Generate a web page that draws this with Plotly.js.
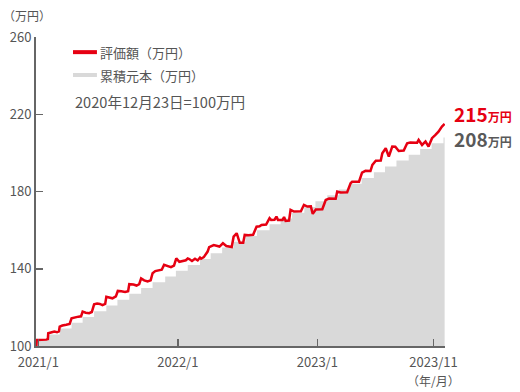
<!DOCTYPE html>
<html><head><meta charset="utf-8">
<script src="https://cdn.plot.ly/plotly-3.0.1.min.js"></script>
<style>html,body{margin:0;padding:0;background:#fff;}#chart{width:520px;height:392px;}</style>
</head><body><div id="chart"></div>
<script>
// 累積元本 (step, purchase dates)
const principalDates = ["2020-12-23","2020-12-28","2021-01-27","2021-02-26","2021-03-29","2021-04-27","2021-05-27","2021-06-28","2021-07-27","2021-08-27","2021-09-27","2021-10-27","2021-11-29","2021-12-27","2022-01-27","2022-02-28","2022-03-28","2022-04-27","2022-05-27","2022-06-27","2022-07-27","2022-08-29","2022-09-27","2022-10-27","2022-11-28","2022-12-27","2023-01-27","2023-02-27","2023-03-27","2023-04-27","2023-05-29","2023-06-27","2023-07-27","2023-08-28","2023-09-27","2023-10-27","2023-11-27","2023-11-30"];
const principalValues = [100,103,106,109,112,115,118,121,124,127,130,133,136,139,142,145,148,151,154,157,160,163,166,169,172,175,178,181,184,187,190,193,196,199,202,205,208,208];

// 評価額
const valueDates = ["2020-12-23","2020-12-27","2020-12-28","2021-01-05","2021-01-14","2021-01-22","2021-01-26","2021-01-27","2021-02-03","2021-02-12","2021-02-19","2021-02-24","2021-02-26","2021-03-05","2021-03-15","2021-03-24","2021-03-29","2021-04-08","2021-04-16","2021-04-23","2021-04-27","2021-05-05","2021-05-14","2021-05-21","2021-05-27","2021-06-04","2021-06-11","2021-06-18","2021-06-25","2021-06-28","2021-07-06","2021-07-14","2021-07-23","2021-07-28","2021-08-06","2021-08-16","2021-08-24","2021-08-27","2021-09-07","2021-09-15","2021-09-22","2021-09-27","2021-10-05","2021-10-14","2021-10-22","2021-10-27","2021-11-03","2021-11-12","2021-11-20","2021-11-26","2021-12-06","2021-12-14","2021-12-22","2021-12-28","2022-01-05","2022-01-14","2022-01-22","2022-01-27","2022-01-31","2022-02-07","2022-02-15","2022-02-22","2022-02-28","2022-03-03","2022-03-10","2022-03-20","2022-03-24","2022-04-05","2022-04-20","2022-04-29","2022-05-08","2022-05-22","2022-05-27","2022-06-04","2022-06-12","2022-06-21","2022-06-25","2022-07-05","2022-07-17","2022-07-26","2022-08-03","2022-08-08","2022-08-20","2022-08-29","2022-09-02","2022-09-11","2022-09-16","2022-09-20","2022-10-02","2022-10-06","2022-10-10","2022-10-19","2022-10-23","2022-11-01","2022-11-19","2022-11-27","2022-12-06","2022-12-15","2022-12-20","2022-12-28","2023-01-14","2023-01-23","2023-02-01","2023-02-18","2023-02-22","2023-03-03","2023-03-20","2023-03-29","2023-04-02","2023-04-20","2023-04-28","2023-05-07","2023-05-20","2023-05-25","2023-06-03","2023-06-16","2023-06-20","2023-06-29","2023-07-07","2023-07-16","2023-07-24","2023-08-02","2023-08-15","2023-08-24","2023-09-01","2023-09-19","2023-09-23","2023-10-02","2023-10-11","2023-10-19","2023-10-28","2023-11-06","2023-11-14","2023-11-23","2023-11-30"];
const valueValues = [100,100.3,103.1,103.2,103.0,103.3,103.6,106.6,107.0,107.5,107.2,107.6,110.0,110.6,111.0,111.4,114.3,115.0,115.2,115.4,117.8,117.2,117.0,117.6,121.6,122.0,121.8,121.2,121.8,125.5,125.0,124.7,125.7,128.5,128.3,128.0,128.4,132.0,131.8,131.3,132.0,135.0,134.0,133.4,134.0,137.7,138.8,139.2,139.5,142.0,141.3,140.8,141.6,145.4,143.6,144.2,144.4,145.3,145.0,144.0,145.2,144.3,145.8,145.2,146.0,148.9,151.2,152.3,151.5,153.2,151.8,151.3,156.6,158.4,153.4,153.4,157.5,157.3,157.6,161.8,162.0,162.7,162.9,166.2,165.3,165.4,167.0,165.3,165.3,166.8,164.8,164.9,170.5,169.6,169.8,173.1,172.2,172.3,168.4,170.7,170.8,175.6,176.4,176.3,180.0,179.5,179.6,184.3,185.0,185.1,189.8,190.7,190.6,193.8,195.9,196.0,199.8,202.4,198.1,203.3,203.2,201.0,201.2,205.0,205.4,205.3,206.7,204.1,205.9,203.3,207.6,209.3,211.0,213.6,215];

const xTickVals = ["2021-01-01","2022-01-01","2023-01-01","2023-11-01","2023-12-01"];
const xTickText = ["2021/1","2022/1","2023/1","2023/11",""];
const yTickVals = [100,140,180,220,260];

const RED = "#e60012", GRAY = "#d9d9d9", TXT = "#555555";
const FONT = "'Noto Sans CJK JP', 'Noto Sans', sans-serif";

const traces = [
  {x: principalDates, y: principalValues, type: "scatter", mode: "lines",
   line: {shape: "hv", width: 0, color: GRAY}, fill: "tozeroy", fillcolor: GRAY, hoverinfo: "skip"},
  {x: valueDates, y: valueValues, type: "scatter", mode: "lines",
   line: {color: RED, width: 2.5}, hoverinfo: "skip"}
];

const lastVal = valueValues[valueValues.length - 1];
const lastPrin = principalValues[principalValues.length - 1];

const layout = {
  width: 520, height: 392,
  margin: {l: 36, r: 75, t: 37, b: 46},
  paper_bgcolor: "#fff", plot_bgcolor: "#fff",
  showlegend: false,
  font: {family: FONT, color: TXT, size: 13},
  xaxis: {type: "date", range: ["2020-12-26", "2023-12-01"],
    tickvals: xTickVals, ticktext: xTickText, ticks: "inside", ticklen: 7, tickwidth: 1.5, tickcolor: "#666",
    showline: true, linecolor: "#666", linewidth: 2, showgrid: false, zeroline: false,
    ticklabelstandoff: 3, tickfont: {size: 13, color: TXT}},
  yaxis: {range: [100, 260], tickvals: yTickVals, ticks: "inside", ticklen: 7, tickwidth: 1.5, tickcolor: "#666",
    showline: true, linecolor: "#666", linewidth: 2, showgrid: false, zeroline: false,
    tickfont: {size: 13, color: TXT}},
  shapes: [
    {type: "line", xref: "paper", yref: "paper", x0: 0.0905, x1: 0.149, y0: 0.951, y1: 0.951, line: {color: RED, width: 4}},
    {type: "line", xref: "paper", yref: "paper", x0: 0.0905, x1: 0.149, y0: 0.877, y1: 0.877, line: {color: GRAY, width: 4}}
  ],
  annotations: [
    {xref: "paper", yref: "paper", x: 0.1516, y: 0.951, xanchor: "left", yanchor: "middle", showarrow: false, text: "評価額（万円）", font: {size: 13, color: TXT}},
    {xref: "paper", yref: "paper", x: 0.1516, y: 0.877, xanchor: "left", yanchor: "middle", showarrow: false, text: "累積元本（万円）", font: {size: 13, color: TXT}},
    {xref: "paper", yref: "paper", x: 0.0905, y: 0.79, xanchor: "left", yanchor: "middle", showarrow: false, text: "2020年12月23日=100万円", font: {size: 14.6, color: TXT}},
    {xref: "paper", yref: "paper", x: -0.085, y: 1.071, xanchor: "left", yanchor: "middle", showarrow: false, text: "（万円）", font: {size: 12, color: TXT}},
    {xref: "paper", yref: "paper", x: 0.973, y: -0.112, xanchor: "center", yanchor: "middle", showarrow: false, text: "（年/月）", font: {size: 12, color: TXT}},
    {xref: "paper", yref: "y", x: 1.017, y: lastVal, yshift: 10, xanchor: "left", yanchor: "middle", showarrow: false,
     text: "<b><span style='font-size:19px'>" + lastVal + "</span><span style='font-size:12px'>万円</span></b>", font: {color: RED}},
    {xref: "paper", yref: "y", x: 1.017, y: lastPrin, yshift: -1, xanchor: "left", yanchor: "middle", showarrow: false,
     text: "<b><span style='font-size:19px'>" + lastPrin + "</span><span style='font-size:12px'>万円</span></b>", font: {color: "#595959"}}
  ]
};

Plotly.newPlot("chart", traces, layout, {staticPlot: true, displayModeBar: false});
</script></body></html>
